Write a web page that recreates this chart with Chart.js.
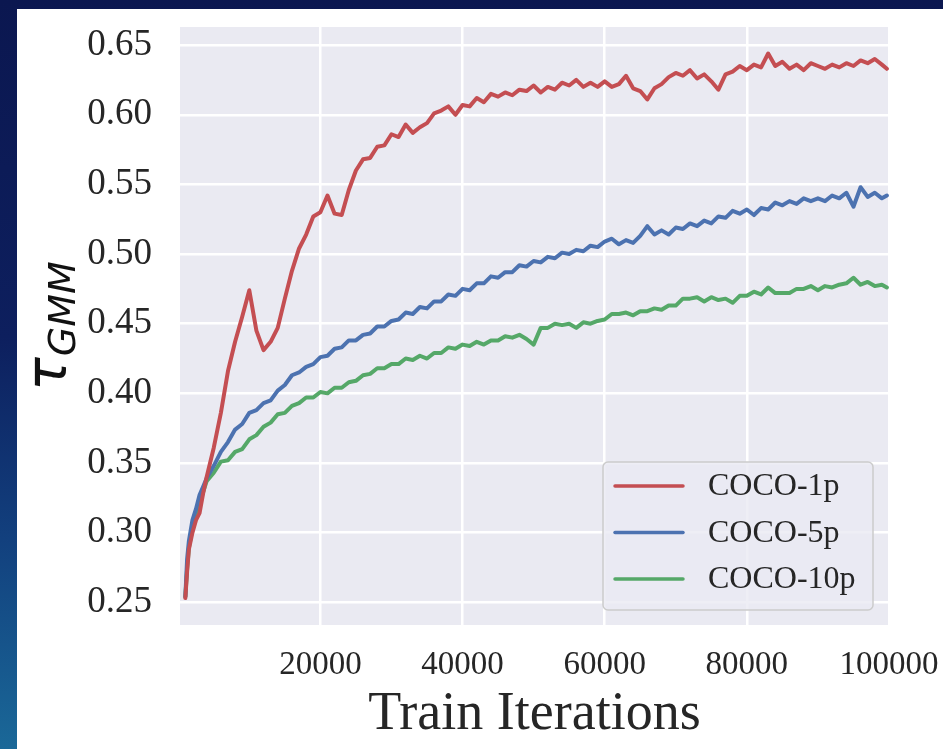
<!DOCTYPE html>
<html>
<head>
<meta charset="utf-8">
<title>Train Iterations</title>
<script src="https://cdn.jsdelivr.net/npm/chart.js@4.4.1/dist/chart.umd.min.js"></script>
<style>
  html, body { margin: 0; padding: 0; }
  body {
    width: 943px; height: 749px; overflow: hidden; position: relative;
    background: linear-gradient(to bottom, #0b1750 0%, #0d1f5e 45%, #12407e 72%, #1a6898 100%);
  }
  #panel { position: absolute; left: 17px; top: 9px; right: 0; bottom: 0; background: #ffffff; }
  #wrap { position: absolute; left: 0; top: 0; width: 943px; height: 749px; }
</style>
</head>
<body>
<div id="panel"></div>
<div id="wrap"><canvas id="chart" width="943" height="749"></canvas></div>
<script>
const iterations = [
  1000, 1250, 1500, 2000, 2500, 3000, 3500, 4000,
  5000, 6000, 7000, 8000, 9000, 10000, 11000, 12000, 13000, 14000,
  15000, 16000, 17000, 18000, 19000, 20000, 21000, 22000, 23000, 24000,
  25000, 26000, 27000, 28000, 29000, 30000, 31000, 32000, 33000, 34000,
  35000, 36000, 37000, 38000, 39000, 40000, 41000, 42000, 43000, 44000,
  45000, 46000, 47000, 48000, 49000, 50000, 51000, 52000, 53000, 54000,
  55000, 56000, 57000, 58000, 59000, 60000, 61000, 62000, 63000, 64000,
  65000, 66000, 67000, 68000, 69000, 70000, 71000, 72000, 73000, 74000,
  75000, 76000, 77000, 78000, 79000, 80000, 81000, 82000, 83000, 84000,
  85000, 86000, 87000, 88000, 89000, 90000, 91000, 92000, 93000, 94000,
  95000, 96000, 97000, 98000, 99000, 99700
];

const coco1p = [
  0.253, 0.272, 0.288, 0.300, 0.309, 0.314, 0.328, 0.340,
  0.361, 0.386, 0.416, 0.437, 0.455, 0.474, 0.445, 0.431, 0.437, 0.447,
  0.468, 0.488, 0.504, 0.514, 0.527, 0.530, 0.542, 0.529, 0.528, 0.546,
  0.560, 0.568, 0.569, 0.577, 0.578, 0.586, 0.584, 0.593, 0.587, 0.591,
  0.594, 0.601, 0.603, 0.606, 0.600, 0.607, 0.606, 0.612, 0.609, 0.615,
  0.613, 0.616, 0.614, 0.618, 0.617, 0.621, 0.616, 0.620, 0.618, 0.623,
  0.621, 0.625, 0.620, 0.623, 0.620, 0.624, 0.620, 0.622, 0.628, 0.619,
  0.617, 0.611, 0.619, 0.622, 0.627, 0.630, 0.628, 0.632, 0.626, 0.629,
  0.624, 0.618, 0.629, 0.631, 0.635, 0.632, 0.636, 0.634, 0.644, 0.635,
  0.638, 0.633, 0.636, 0.632, 0.637, 0.635, 0.633, 0.636, 0.634, 0.637,
  0.635, 0.639, 0.637, 0.640, 0.636, 0.633
];

const coco5p = [
  0.254, 0.281, 0.294, 0.309, 0.317, 0.327, 0.333, 0.339,
  0.348, 0.358, 0.365, 0.374, 0.378, 0.386, 0.388, 0.393, 0.395, 0.402,
  0.406, 0.413, 0.415, 0.419, 0.421, 0.426, 0.427, 0.432, 0.433, 0.438,
  0.438, 0.442, 0.443, 0.448, 0.448, 0.452, 0.453, 0.458, 0.457, 0.462,
  0.461, 0.466, 0.466, 0.471, 0.470, 0.475, 0.474, 0.479, 0.479, 0.484,
  0.483, 0.487, 0.487, 0.492, 0.491, 0.495, 0.494, 0.498, 0.497, 0.501,
  0.500, 0.503, 0.502, 0.506, 0.505, 0.509, 0.511, 0.507, 0.510, 0.508,
  0.513, 0.520, 0.514, 0.517, 0.514, 0.519, 0.518, 0.522, 0.520, 0.524,
  0.522, 0.527, 0.526, 0.531, 0.529, 0.532, 0.528, 0.533, 0.532, 0.537,
  0.535, 0.538, 0.536, 0.540, 0.538, 0.540, 0.538, 0.542, 0.540, 0.544,
  0.534, 0.548, 0.541, 0.544, 0.540, 0.542
];

const coco10p = [
  0.254, 0.274, 0.289, 0.303, 0.311, 0.321, 0.329, 0.337,
  0.343, 0.351, 0.352, 0.358, 0.360, 0.367, 0.370, 0.376, 0.379, 0.385,
  0.386, 0.391, 0.393, 0.397, 0.397, 0.401, 0.400, 0.404, 0.404, 0.408,
  0.409, 0.413, 0.414, 0.418, 0.418, 0.421, 0.421, 0.425, 0.424, 0.427,
  0.425, 0.429, 0.429, 0.433, 0.432, 0.435, 0.434, 0.437, 0.435, 0.438,
  0.438, 0.441, 0.440, 0.442, 0.439, 0.435, 0.447, 0.447, 0.450, 0.449,
  0.450, 0.447, 0.451, 0.450, 0.452, 0.453, 0.457, 0.457, 0.458, 0.456,
  0.459, 0.459, 0.461, 0.460, 0.463, 0.463, 0.468, 0.468, 0.469, 0.466,
  0.469, 0.467, 0.468, 0.465, 0.470, 0.470, 0.473, 0.471, 0.476, 0.472,
  0.472, 0.472, 0.475, 0.475, 0.477, 0.474, 0.477, 0.476, 0.478, 0.479,
  0.483, 0.478, 0.480, 0.477, 0.478, 0.476
];

const seriesNames = ["COCO-1p", "COCO-5p", "COCO-10p"];
const seriesColors = ["#c44e52", "#4c72b0", "#55a868"];
const xTicks = [20000, 40000, 60000, 80000, 100000];
const yTicks = [0.25, 0.30, 0.35, 0.40, 0.45, 0.50, 0.55, 0.60, 0.65];

const serif = "'Liberation Serif', 'Times New Roman', serif";
const textColor = "#262626";

function toPoints(values) {
  return values.map((v, i) => ({ x: iterations[i], y: v }));
}

// grey plot background behind the grid
const plotBackground = {
  id: "plotBackground",
  beforeDraw(chart) {
    const { ctx, chartArea: a } = chart;
    ctx.save();
    ctx.fillStyle = "#eaeaf2";
    ctx.fillRect(a.left, a.top, a.right - a.left, a.bottom - a.top);
    ctx.restore();
  }
};

// tau with GMM subscript, rotated along the y axis
const yTitle = {
  id: "yTitle",
  afterDraw(chart) {
    const ctx = chart.ctx;
    ctx.save();
    ctx.translate(66, 391);
    ctx.rotate(-Math.PI / 2);
    ctx.fillStyle = "#111111";
    ctx.textBaseline = "alphabetic";
    ctx.font = "oblique 56px 'DejaVu Sans'";
    ctx.fillText("τ", 0, 0);
    const w = ctx.measureText("τ").width;
    ctx.font = "oblique 38px 'DejaVu Sans'";
    ctx.fillText("GMM", w + 1, 9);
    ctx.restore();
  }
};

// legend box in the lower right corner of the plot
const boxLegend = {
  id: "boxLegend",
  afterDatasetsDraw(chart) {
    const ctx = chart.ctx;
    const x = 603, y = 462, w = 270, h = 148, r = 5;
    ctx.save();
    ctx.beginPath();
    ctx.roundRect(x, y, w, h, r);
    ctx.fillStyle = "rgba(234,234,242,0.8)";
    ctx.fill();
    ctx.lineWidth = 1.5;
    ctx.strokeStyle = "#cccccc";
    ctx.stroke();
    ctx.font = "32px " + serif;
    ctx.textBaseline = "middle";
    chart.data.datasets.forEach((ds, i) => {
      const ly = 486 + i * 46.5;
      ctx.beginPath();
      ctx.moveTo(615, ly);
      ctx.lineTo(683, ly);
      ctx.strokeStyle = ds.borderColor;
      ctx.lineWidth = 3.5;
      ctx.lineCap = "round";
      ctx.stroke();
      ctx.fillStyle = textColor;
      ctx.fillText(ds.label, 708, ly + 1);
    });
    ctx.restore();
  }
};

// keep tick labels from pushing the plot area inwards
function noLabelPadding(scale) {
  scale.paddingTop = 0;
  scale.paddingBottom = 0;
  scale.paddingLeft = 0;
  scale.paddingRight = 0;
}

const ctx = document.getElementById("chart").getContext("2d");

new Chart(ctx, {
  type: "line",
  data: {
    datasets: [coco1p, coco5p, coco10p].map((values, i) => ({
      label: seriesNames[i],
      data: toPoints(values),
      borderColor: seriesColors[i],
      backgroundColor: seriesColors[i],
      borderWidth: 4,
      pointRadius: 0,
      tension: 0,
      borderJoinStyle: "round",
      borderCapStyle: "round",
      fill: false
    }))
  },
  options: {
    responsive: false,
    animation: false,
    layout: { padding: { left: 0, top: 27, right: 54, bottom: 0 } },
    plugins: {
      legend: { display: false },
      tooltip: { enabled: false }
    },
    scales: {
      x: {
        type: "linear",
        min: 250,
        max: 100000,
        afterBuildTicks: (scale) => { scale.ticks = xTicks.map(v => ({ value: v })); },
        afterFit: (scale) => { scale.height = 124; noLabelPadding(scale); },
        grid: { color: "#ffffff", lineWidth: 2.5, drawTicks: false },
        border: { display: false },
        ticks: {
          padding: 21,
          color: textColor,
          font: { family: serif, size: 33 },
          maxRotation: 0,
          callback: (v) => String(v)
        },
        title: {
          display: true,
          text: "Train Iterations",
          color: textColor,
          font: { family: serif, size: 54 },
          padding: { top: 0, bottom: 2 }
        }
      },
      y: {
        min: 0.2337,
        max: 0.663,
        afterBuildTicks: (scale) => { scale.ticks = yTicks.map(v => ({ value: v })); },
        afterFit: (scale) => { scale.width = 180; noLabelPadding(scale); },
        grid: { color: "#ffffff", lineWidth: 2.5, drawTicks: false },
        border: { display: false },
        ticks: {
          padding: 28,
          color: textColor,
          font: { family: serif, size: 37 },
          callback: (v) => v.toFixed(2)
        }
      }
    }
  },
  plugins: [plotBackground, boxLegend, yTitle]
});
</script>
</body>
</html>
